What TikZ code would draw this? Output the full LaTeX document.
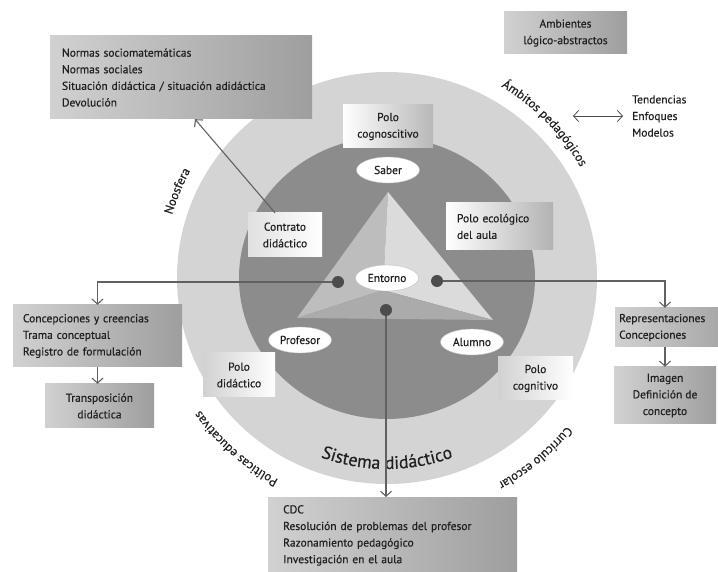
\documentclass[tikz,border=0pt]{standalone}
\usepackage{fontspec}
\setmainfont{PT Sans}[FakeBold=0.4]
\usepackage{tikz}
\usetikzlibrary{shapes,arrows.meta,positioning,calc,decorations.text}

\newcommand{\boxfont}{\fontsize{11.5}{16.6}\selectfont}
\newcommand{\ringfont}{\fontsize{12.5}{14}\selectfont}
\newcommand{\bigringfont}{\fontsize{18}{20}\selectfont}

\begin{document}
\begin{tikzpicture}[x=1pt,y=1pt,
		gbox/.style={left color=black!18, right color=black!38, inner sep=0pt, font=\boxfont, text=black!88, align=center},
		wbox/.style={inner sep=0pt, font=\boxfont, text=black!88, align=center},
		pole/.style={ellipse, fill=white, draw=black!25, inner sep=0pt, minimum width=63pt, minimum height=26pt, font=\boxfont, text=black!88},
		dot/.style={circle, fill=black!70, inner sep=0pt, minimum size=12pt},
		link/.style={draw=black!62, line width=1.1pt, -{Straight Barb[length=5pt,width=11pt]}},
		ring/.style={decorate, decoration={text along path, text align=center, text color=black!88, text={#1}}}]
			\useasboundingbox (0,0) rectangle (718,571);
			% the two circles of the didactic system
			\coordinate (C) at (387,293);
			\fill[black!17] (C) ellipse[x radius=210, y radius=206];
			\fill[black!45] (C) ellipse[x radius=148, y radius=141];
			% pyramid
			\coordinate (T) at (388,379);
			\coordinate (L) at (297,253);
			\coordinate (R) at (493,251);
			\coordinate (M) at (383,281);
			\fill[black!26] (T) -- (L) -- (M) -- cycle;
			\fill[black!14] (T) -- (M) -- (R) -- cycle;
			\fill[black!33] (L) -- (R) -- (M) -- cycle;
			% labels round the circle
			\path[ring={|\ringfont|Noosfera}] (C) ++(172:224) arc[start angle=172, end angle=143, radius=224];
			\path[ring={|\ringfont|Ámbitos pedagógicos}] (C) ++(75:223) arc[start angle=75, end angle=14, radius=223];
			\path[ring={|\ringfont|Políticas educativas}] (C) ++(258:229) arc[start angle=258, end angle=199, radius=229];
			\path[ring={|\ringfont|Currículo escolar}] (C) ++(-30:233) arc[start angle=-30, end angle=-71, radius=233];
			\path[ring={|\bigringfont|Sistema didáctico}] (C) ++(235:191) arc[start angle=235, end angle=305, radius=191];
			% poles
			\node[pole] (saber) at (388,401) {Saber};
			\node[pole] (entorno) at (387,293) {Entorno};
			\node[pole] (profesor) at (300,231) {Profesor};
			\node[pole] (alumno) at (472,229) {Alumno};
			\node[wbox, left color=white, right color=black!28, minimum width=90pt, minimum height=43pt] (cognoscitivo) at (388,444.5) {Polo\\cognoscitivo};
			\node[wbox, left color=black!12, right color=white, minimum width=74pt, minimum height=44pt] (contrato) at (285,336) {Contrato\\didáctico};
			\node[wbox, left color=white, right color=black!30, align=left, text width=85pt, inner xsep=11pt, minimum height=47pt] (ecologico) at (499.5,344.5) {Polo ecológico\\del aula};
			\node[wbox, left color=black!18, right color=white, minimum width=72pt, minimum height=44pt] (didactico) at (239,196) {Polo\\didáctico};
			\node[wbox, left color=black!18, right color=white, minimum width=75pt, minimum height=43pt] (cognitivo) at (535.5,192.5) {Polo\\cognitivo};
			% outer boxes
			\node[gbox, align=left, text width=238pt, inner xsep=12pt, minimum height=83pt] (normas) at (181,493.5) {Normas sociomatemáticas\\Normas sociales\\Situación didáctica / situación adidáctica\\Devolución};
			\node[gbox, minimum width=123pt, minimum height=42pt] (ambientes) at (565.5,538) {Ambientes\\lógico-abstractos};
			\node[font=\boxfont, text=black!88, align=left, anchor=west, inner sep=0pt] (tendencias) at (632,455) {Tendencias\\Enfoques\\Modelos};
			\coordinate (ambito) at (573,455);
			\node[gbox, align=left, text width=149pt, inner xsep=10pt, minimum height=62pt] (concep) at (97.5,235) {Concepciones y creencias\\Trama conceptual\\Registro de formulación};
			\node[gbox, minimum width=109pt, minimum height=44pt] (transp) at (99.5,165) {Transposición\\didáctica};
			\node[gbox, anchor=west, align=left, text width=120pt, inner xsep=4pt, minimum height=39pt] (repr) at (615,243.5) {Representaciones\\Concepciones};
			\node[gbox, minimum width=102pt, minimum height=57pt] (imagen) at (665,175.5) {Imagen\\Definición de\\concepto};
			\node[gbox, anchor=north west, align=left, text width=219pt, inner xsep=15pt, inner ysep=8pt] (cdc) at (268,74) {CDC\\Resolución de problemas del profesor\\Razonamiento pedagógico\\Investigación en el aula};
			% dots and connectors
			\node[dot] (dl) at (338,289) {};
			\node[dot] (dr) at (437,290) {};
			\node[dot] (db) at (386,261) {};
			\draw[link] (dl) -| (concep.north);
			\draw[link] (dr) -| (repr.north -| imagen.north);
			\draw[link] (db) -- (db |- cdc.north);
			\draw[link] (concep.south) -- (concep.south |- transp.north);
			\draw[link] (repr.south -| imagen.north) -- (imagen.north);
			\draw[link] ([xshift=-10pt]contrato.north) -- ([xshift=14pt]normas.south);
			\draw[black!70, line width=.8pt, {Straight Barb[length=5pt,width=11pt]}-{Straight Barb[length=5pt,width=11pt]}, shorten >=9pt] (ambito) -- (tendencias.west);
		\end{tikzpicture}
\end{document}
